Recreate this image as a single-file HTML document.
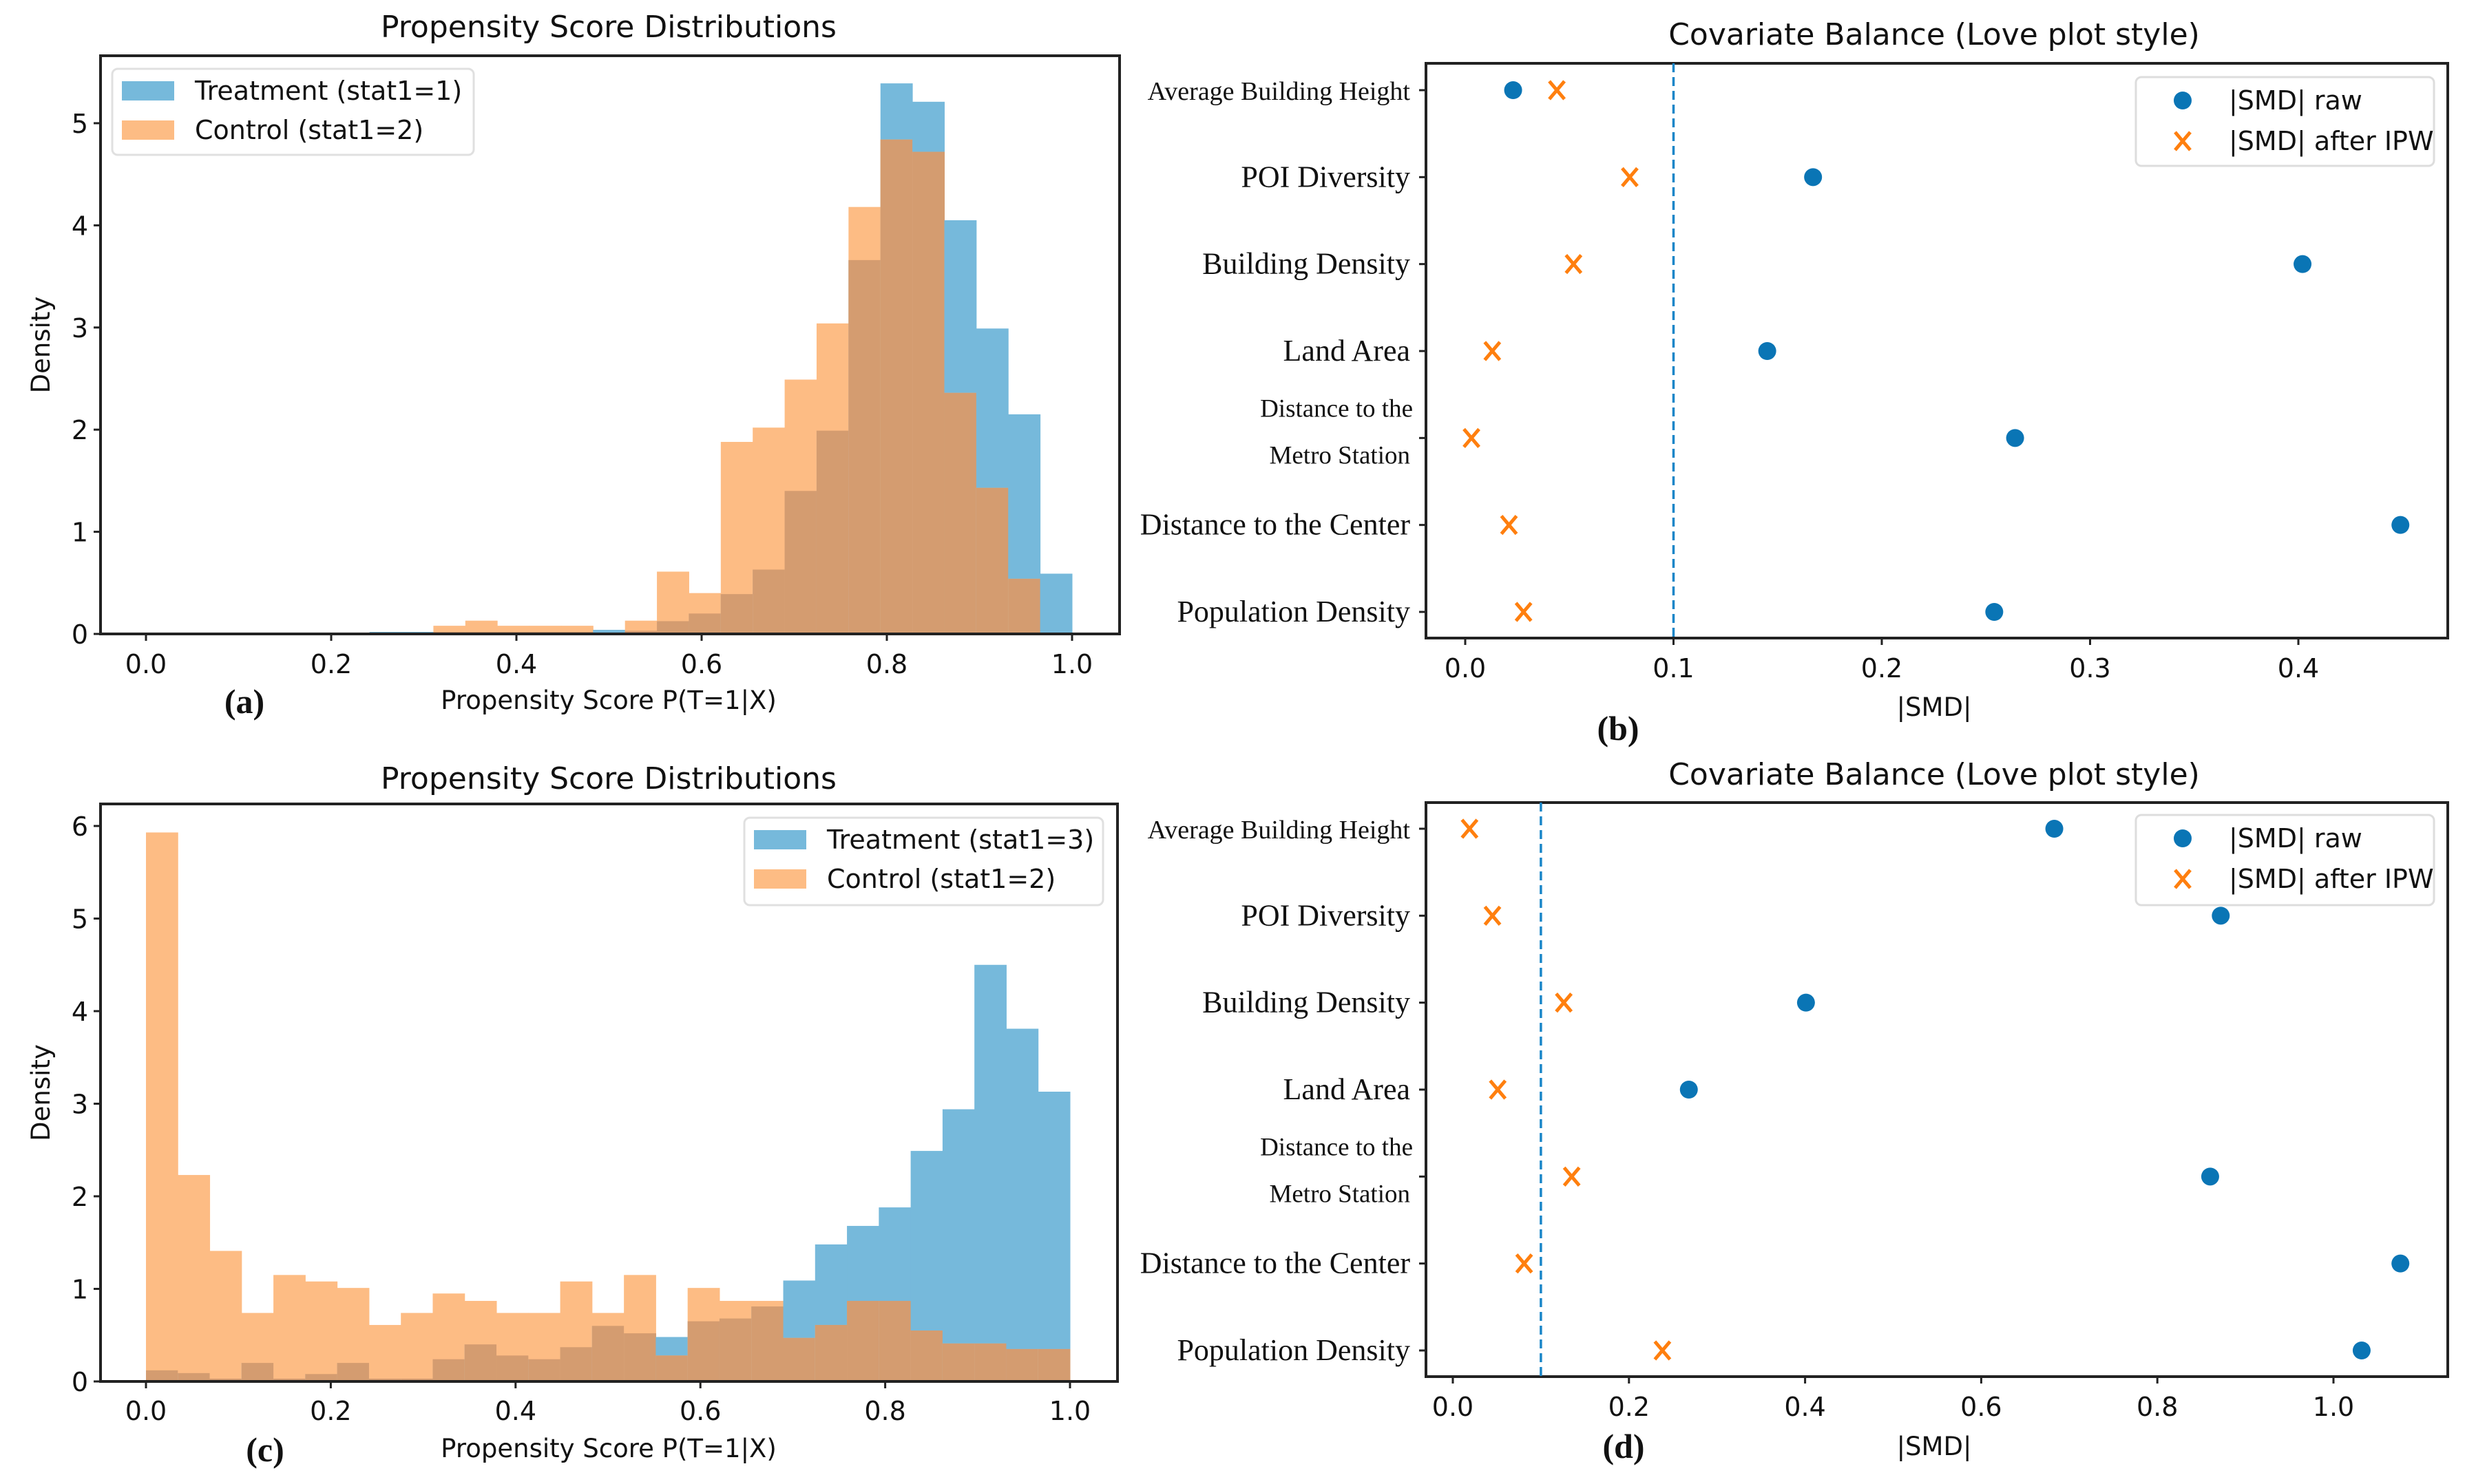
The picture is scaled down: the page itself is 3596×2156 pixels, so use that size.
<!DOCTYPE html>
<html><head><meta charset="utf-8">
<style>
html,body{margin:0;padding:0;background:#fff;}
svg{display:block;}
.t{font-family:"DejaVu Sans","Liberation Sans",sans-serif;fill:#111;}
.s{font-family:"Liberation Serif",serif;fill:#111;}
</style></head>
<body>
<svg id="fig" width="3596" height="2156" viewBox="0 0 3596 2156" xmlns="http://www.w3.org/2000/svg"></svg>
<script>
// ---- data ----
const histBins = 29;
const histA_treatment = [0,0,0,0,0,0,0,0.02,0.02,0.02,0.02,0.02,0.02,0.02,0.04,0.03,0.125,0.2,0.39,0.63,1.40,1.99,3.66,5.39,5.21,4.05,2.99,2.15,0.59];
const histA_control   = [0,0,0,0,0,0,0,0,0,0.08,0.13,0.08,0.08,0.08,0,0.13,0.61,0.40,1.88,2.02,2.49,3.04,4.18,4.84,4.72,2.36,1.43,0.54,0];
const histC_treatment = [0.12,0.09,0.03,0.2,0.03,0.08,0.2,0.03,0.03,0.24,0.40,0.28,0.24,0.37,0.60,0.52,0.48,0.65,0.68,0.81,1.09,1.48,1.68,1.88,2.49,2.94,4.50,3.81,3.13];
const histC_control   = [5.93,2.23,1.41,0.74,1.15,1.08,1.01,0.61,0.74,0.95,0.87,0.74,0.74,1.08,0.74,1.15,0.28,1.01,0.87,0.87,0.47,0.61,0.87,0.87,0.55,0.41,0.41,0.35,0.35];
const histXTicks = [0.0,0.2,0.4,0.6,0.8,1.0];
const histA_yTicks = [0,1,2,3,4,5];
const histC_yTicks = [0,1,2,3,4,5,6];
const covariates = ["Average Building Height","POI Diversity","Building Density","Land Area","Distance to the|Metro Station","Distance to the Center","Population Density"];
const smdB_raw = [0.023,0.167,0.402,0.145,0.264,0.449,0.254];
const smdB_ipw = [0.044,0.079,0.052,0.013,0.003,0.021,0.028];
const smdD_raw = [0.683,0.872,0.401,0.268,0.860,1.076,1.032];
const smdD_ipw = [0.019,0.045,0.126,0.051,0.135,0.081,0.238];
const smdB_ticks = [0.0,0.1,0.2,0.3,0.4];
const smdD_ticks = [0.0,0.2,0.4,0.6,0.8,1.0];
const threshold = 0.1;

const NS = "http://www.w3.org/2000/svg";
const fig = document.getElementById('fig');
function mk(tag, attrs, parent, text){
  const e = document.createElementNS(NS, tag);
  for (const k in attrs) e.setAttribute(k, attrs[k]);
  if (text !== undefined) e.textContent = text;
  (parent||fig).appendChild(e);
  return e;
}
const BLUE='#76b9db', ORANGE='#fdbc84', BROWN='#d49c70';

function histPanel(p){
  const g = mk('g', {});
  
  
  const sx = v => p.x0 + (p.x1 - p.x0) * v;
  const sy = v => p.y0 - (p.y0 - p.yTop) * v / p.yTopVal;
  const w = 1 / histBins;
  for (let i = 0; i < histBins; i++){
    const a = p.tr[i], c = p.ct[i], lo = Math.min(a, c);
    const xa = sx(i*w), xb = sx((i+1)*w);
    if (a > 0){ const r = mk('rect',{x:xa,y:sy(a),width:xb-xa+0.5,height:sy(0)-sy(a),fill:BLUE},g);
        }
    if (c > 0){ const r = mk('rect',{x:xa,y:sy(c),width:xb-xa+0.5,height:sy(0)-sy(c),fill:ORANGE},g);
        }
    if (lo > 0){ const r = mk('rect',{x:xa,y:sy(lo),width:xb-xa+0.5,height:sy(0)-sy(lo),fill:BROWN},g);
        }
  }
  const box = mk('rect',{x:p.bx0,y:p.by0,width:p.bx1-p.bx0,height:p.by1-p.by0,fill:'none',stroke:'#222','stroke-width':4},g);
   
  histXTicks.forEach(v=>{
    mk('line',{x1:sx(v),x2:sx(v),y1:p.by1,y2:p.by1+10,stroke:'#222','stroke-width':3},g);
    const t = mk('text',{x:sx(v),y:p.tickY,'text-anchor':'middle','font-size':38,class:'t'},g,v.toFixed(1));
     
  });
  p.yTicks.forEach(v=>{
    mk('line',{x1:p.bx0-10,x2:p.bx0,y1:sy(v),y2:sy(v),stroke:'#222','stroke-width':3},g);
    const t = mk('text',{x:p.bx0-18,y:sy(v)+14,'text-anchor':'end','font-size':38,class:'t'},g,String(v));
     
  });
  const ti = mk('text',{x:884,y:p.titleY,'text-anchor':'middle','font-size':44,class:'t'},g,'Propensity Score Distributions');
   
  const xl = mk('text',{x:884,y:p.xlabY,'text-anchor':'middle','font-size':37,class:'t'},g,'Propensity Score P(T=1|X)');
   
  const yl = mk('text',{x:0,y:0,'text-anchor':'middle','font-size':37,class:'t',transform:`translate(72,${(p.by0+p.by1)/2}) rotate(-90)`},g,'Density');
   
  const pl = mk('text',{x:p.labX,y:p.xlabY+6,'text-anchor':'middle','font-size':50,'font-weight':'bold',class:'s'},g,p.label);
   
  const lg = mk('g',{},g);
   
  mk('rect',{x:p.lx0,y:p.ly0,width:p.lx1-p.lx0,height:p.ly1-p.ly0,rx:8,fill:'#fff',stroke:'#ddd','stroke-width':3,opacity:0.9},lg);
  [[BLUE,p.tLabel],[ORANGE,p.cLabel]].forEach((e,i)=>{
    const yy = p.ly0 + 32 + i*57;
    mk('rect',{x:p.lx0+14,y:yy-14,width:76,height:28,fill:e[0]},lg);
    const t = mk('text',{x:p.lx0+120,y:yy+13,'font-size':38,class:'t'},lg,e[1]);
     
  });
}

histPanel({name:'histogram-a',tr:histA_treatment,ct:histA_control,x0:212,x1:1557,y0:921,yTop:179,yTopVal:5,
  bx0:146,bx1:1626,by0:81,by1:921,yTicks:histA_yTicks,tickY:978,titleY:54,xlabY:1030,labX:355,label:'(a)',
  lx0:163,lx1:688,ly0:100,ly1:225,tLabel:'Treatment (stat1=1)',cLabel:'Control (stat1=2)'});
histPanel({name:'histogram-c',tr:histC_treatment,ct:histC_control,x0:212,x1:1554,y0:2007,yTop:1200,yTopVal:6,
  bx0:146,bx1:1623,by0:1168,by1:2007,yTicks:histC_yTicks,tickY:2063,titleY:1146,xlabY:2117,labX:385,label:'(c)',
  lx0:1081,lx1:1602,ly0:1188,ly1:1315,tLabel:'Treatment (stat1=3)',cLabel:'Control (stat1=2)'});

function lovePanel(p){
  const g = mk('g', {});
  
  
  const sx = v => p.x0 + (p.x1 - p.x0) * v / p.x1Val;
  const sy = i => p.cy0 + (p.cy1 - p.cy0) * i / (covariates.length - 1);
  const box = mk('rect',{x:2071,y:p.by0,width:3555-2071,height:p.by1-p.by0,fill:'none',stroke:'#222','stroke-width':4},g);
   
  const dl = mk('line',{x1:sx(threshold),x2:sx(threshold),y1:p.by0,y2:p.by1,stroke:'#1a86c8','stroke-width':3.5,'stroke-dasharray':'13 7'},g);
   
  p.ticks.forEach(v=>{
    mk('line',{x1:sx(v),x2:sx(v),y1:p.by1,y2:p.by1+10,stroke:'#222','stroke-width':3},g);
    const t = mk('text',{x:sx(v),y:p.tickY,'text-anchor':'middle','font-size':38,class:'t'},g,v.toFixed(1));
     
  });
  covariates.forEach((c,i)=>{
    const y = sy(i);
    mk('line',{x1:2061,x2:2071,y1:y,y2:y,stroke:'#222','stroke-width':3},g);
    const parts = c.split('|');
    if (parts.length === 1){
      const t = mk('text',{x:2048,y:y+14,'text-anchor':'end','font-size': c.length>22?38:44,class:'s'},g,c);
       
    } else {
      const t1 = mk('text',{x:2052,y:y-31,'text-anchor':'end','font-size':37,class:'s'},g,parts[0]);
       
      const t2 = mk('text',{x:2048,y:y+37,'text-anchor':'end','font-size':37,class:'s'},g,parts[1]);
       
    }
    const cx = sx(p.raw[i]);
    const dot = mk('circle',{cx:cx,cy:y,r:13,fill:'#0a75b5'},g);
     
    const xx = sx(p.ipw[i]);
    const xm = mk('path',{d:`M${xx-11},${y-13}L${xx+11},${y+13}M${xx-11},${y+13}L${xx+11},${y-13}`,stroke:'#ff7f0e','stroke-width':5,fill:'none'},g);
     
  });
  const ti = mk('text',{x:2809,y:p.titleY,'text-anchor':'middle','font-size':44,class:'t'},g,'Covariate Balance (Love plot style)');
   
  const xl = mk('text',{x:2809,y:p.xlabY,'text-anchor':'middle','font-size':37,class:'t'},g,'|SMD|');
   
  const pl = mk('text',{x:p.labX,y:p.labY,'text-anchor':'middle','font-size':50,'font-weight':'bold',class:'s'},g,p.label);
   
  const lg = mk('g',{},g);
   
  mk('rect',{x:3102,y:p.ly0,width:433,height:p.ly1-p.ly0,rx:8,fill:'#fff',stroke:'#ddd','stroke-width':3},lg);
  const r1 = p.ly0+34, r2 = p.ly0+93;
  mk('circle',{cx:3170,cy:r1,r:13,fill:'#0a75b5'},lg);
  const e1 = mk('text',{x:3237,y:r1+13,'font-size':38,class:'t'},lg,'|SMD| raw');
   
  mk('path',{d:`M3159,${r2-13}L3181,${r2+13}M3159,${r2+13}L3181,${r2-13}`,stroke:'#ff7f0e','stroke-width':5,fill:'none'},lg);
  const e2 = mk('text',{x:3237,y:r2+13,'font-size':38,class:'t'},lg,'|SMD| after IPW');
   
}

lovePanel({name:'love-plot-b',raw:smdB_raw,ipw:smdB_ipw,ticks:smdB_ticks,x0:2128,x1:3338,x1Val:0.4,
  by0:92,by1:927,cy0:131,cy1:889,tickY:984,titleY:65,xlabY:1040,labX:2350,labY:1075,label:'(b)',ly0:112,ly1:241});
lovePanel({name:'love-plot-d',raw:smdD_raw,ipw:smdD_ipw,ticks:smdD_ticks,x0:2110,x1:3389,x1Val:1.0,
  by0:1166,by1:2000,cy0:1204,cy1:1962,tickY:2057,titleY:1140,xlabY:2114,labX:2358,labY:2118,label:'(d)',ly0:1184,ly1:1315});
</script>
</body></html>
